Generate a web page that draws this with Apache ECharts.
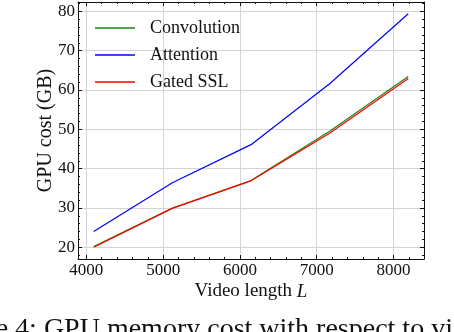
<!DOCTYPE html>
<html>
<head>
<meta charset="utf-8">
<script src="https://cdn.jsdelivr.net/npm/echarts@6/dist/echarts.min.js"></script>
<style>
  html, body { margin: 0; padding: 0; background: #fff; }
  #chart { width: 454px; height: 332px; }
</style>
</head>
<body>
<div id="chart"></div>
<script>
const lengths = [4096, 5120, 6144, 7168, 8192];
const convolution = [20.2, 30.0, 37.0, 49.5, 63.4];
const attention = [24.0, 36.4, 46.1, 61.6, 79.4];
const gatedSSL = [20.0, 29.9, 36.9, 49.0, 62.9];

const xMin = 3891.2, xMax = 8396.8;
const yMin = 17.03, yMax = 82.37;
const font = 'Liberation Serif';
const ink = '#111';

function pairs(ys) {
  return lengths.map((x, i) => [x, ys[i]]);
}

// one axis: major (labels, grid) or minor (only short ticks)
function axis(position, min, max, split, major, extra) {
  return Object.assign({
    type: 'value',
    position: position,
    min: min,
    max: max,
    splitNumber: split,
    axisLine: { show: major, onZero: false, lineStyle: { color: ink, width: 1 } },
    axisTick: { show: true, inside: true, length: major ? 4 : 2, lineStyle: { color: ink, width: 1 } },
    axisLabel: { show: false },
    splitLine: { show: false }
  }, extra || {});
}

const chart = echarts.init(document.getElementById('chart'));

const option = {
  animation: false,
  grid: { left: 78, right: 30, top: 2, bottom: 73, containLabel: false },
  legend: {
    left: 95,
    top: 19,
    padding: 0,
    orient: 'vertical',
    icon: 'rect',
    itemWidth: 40,
    itemHeight: 1.5,
    itemGap: 9,
    textStyle: { fontFamily: font, fontSize: 18, color: ink, lineHeight: 18, padding: [0, 0, 0, 10] },
    data: ['Convolution', 'Attention', 'Gated SSL']
  },
  xAxis: [
    axis('bottom', xMin, xMax, 5, true, {
      name: 'Video length {i|L}',
      nameLocation: 'middle',
      nameGap: 23,
      nameMoveOverlap: false,
      nameTextStyle: {
        fontFamily: font, fontSize: 19, color: ink,
        rich: { i: { fontFamily: font, fontSize: 19, fontStyle: 'italic', color: ink } }
      },
      axisLabel: {
        show: true, margin: 3, fontFamily: font, fontSize: 17, color: ink,
        formatter: v => (Math.abs(v % 1000) < 1e-6 ? String(v) : '')
      },
      splitLine: { show: true, lineStyle: { color: '#d4d4d4', width: 1 } }
    }),
    axis('bottom', xMin, xMax, 22, false),
    axis('top', xMin, xMax, 5, true),
    axis('top', xMin, xMax, 22, false)
  ],
  yAxis: [
    axis('left', yMin, yMax, 7, true, {
      name: 'GPU cost (GB)',
      nameLocation: 'middle',
      nameGap: 22,
      nameMoveOverlap: false,
      nameTextStyle: { fontFamily: font, fontSize: 20, color: ink },
      axisLabel: {
        show: true, margin: 3, fontFamily: font, fontSize: 17, color: ink,
        formatter: v => (Math.abs(v % 10) < 1e-6 ? String(v) : '')
      },
      splitLine: { show: true, lineStyle: { color: '#d4d4d4', width: 1 } }
    }),
    axis('left', yMin, yMax, 30, false),
    axis('right', yMin, yMax, 7, true),
    axis('right', yMin, yMax, 30, false)
  ],
  series: [
    { name: 'Convolution', type: 'line', data: pairs(convolution), symbol: 'none',
      lineStyle: { color: '#108a10', width: 1.2 }, itemStyle: { color: '#108a10' } },
    { name: 'Attention', type: 'line', data: pairs(attention), symbol: 'none',
      lineStyle: { color: '#0000ff', width: 1.2 }, itemStyle: { color: '#0000ff' } },
    { name: 'Gated SSL', type: 'line', data: pairs(gatedSSL), symbol: 'none',
      lineStyle: { color: '#ff0000', width: 1.2 }, itemStyle: { color: '#ff0000' } }
  ],
  graphic: [{
    type: 'text',
    left: -65,
    top: 316,
    style: {
      text: 'Figure 4: GPU memory cost with respect to video length L.',
      fontFamily: font,
      fontSize: 28,
      fill: ink
    }
  }]
};

chart.setOption(option);
</script>
</body>
</html>
